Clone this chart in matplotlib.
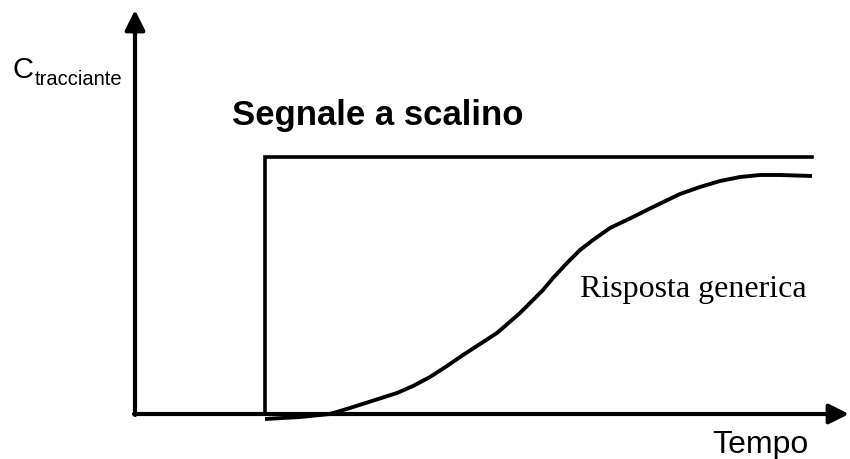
import matplotlib.pyplot as plt

# Step input (tracer concentration) - time / concentration in arbitrary units
step_t = [1.30, 1.30, 6.77]
step_c = [0.00, 2.57, 2.57]

# Generic response
resp_t = [1.30, 1.65, 1.95, 2.15, 2.40, 2.62, 2.78, 2.95, 3.12, 3.28, 3.45,
          3.62, 3.85, 3.98, 4.08, 4.18, 4.32, 4.45, 4.58, 4.75, 4.98, 5.18,
          5.45, 5.65, 5.85, 6.05, 6.25, 6.45, 6.77]
resp_c = [-0.05, -0.03, 0.00, 0.06, 0.14, 0.21, 0.28, 0.37, 0.48, 0.59, 0.70,
          0.81, 1.01, 1.14, 1.24, 1.36, 1.51, 1.64, 1.74, 1.86, 1.97, 2.07,
          2.20, 2.27, 2.33, 2.37, 2.39, 2.39, 2.38]

label_y = 'C'
label_y_sub = 'tracciante'
label_x = 'Tempo'
label_step = 'Segnale a scalino'
label_resp = 'Risposta generica'

fig = plt.figure(figsize=(8.5, 4.59), dpi=100)
ax = fig.add_axes([0, 0, 1, 1])
ax.set_xlim(-1.35, 7.15)
ax.set_ylim(-0.45, 4.14)
ax.axis('off')

# axes with arrows
arrow = dict(arrowstyle='-|>,head_length=1.0,head_width=0.5', lw=3, color='black',
             mutation_scale=12, shrinkA=0, shrinkB=0)
ax.annotate('', xy=(0, 4.04), xytext=(0, -0.01), arrowprops=arrow)
ax.annotate('', xy=(7.14, 0), xytext=(-0.01, 0), arrowprops=arrow)

ax.plot(step_t, step_c, color='black', lw=2.6, solid_joinstyle='miter')
ax.plot(resp_t, resp_c, color='black', lw=2.8, solid_capstyle='butt',
        solid_joinstyle='round')

sans = ['Liberation Sans', 'DejaVu Sans']
ax.text(-1.23, 3.36, label_y, fontsize=21, family=sans, va='baseline', ha='left')
ax.text(-1.00, 3.29, label_y_sub, fontsize=14.5, family=sans, va='baseline', ha='left')
ax.text(0.97, 2.89, label_step, fontsize=25, fontweight='bold', family=sans,
        va='baseline', ha='left')
ax.text(4.45, 1.17, label_resp, fontsize=23, family=['Liberation Serif', 'DejaVu Serif'],
        va='baseline', ha='left')
ax.text(5.77, -0.39, label_x, fontsize=23, family=sans, va='baseline', ha='left')

fig.savefig('out.png', dpi=100)
